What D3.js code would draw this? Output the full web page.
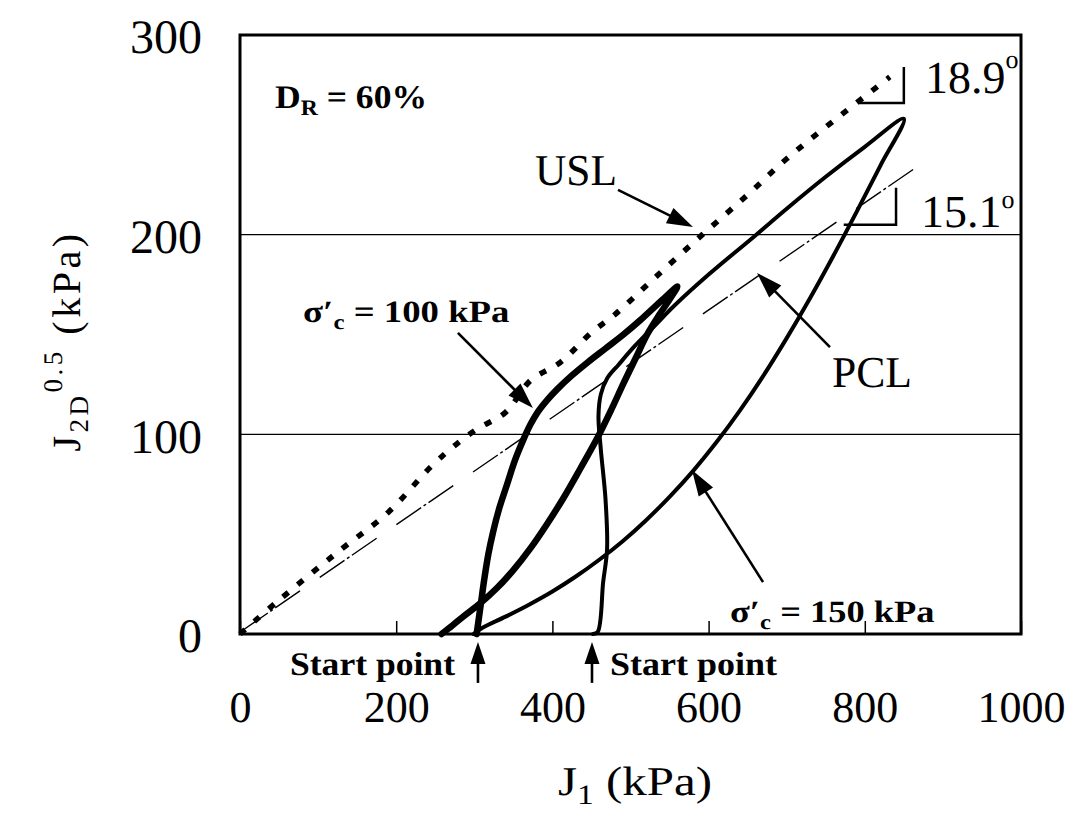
<!DOCTYPE html>
<html><head><meta charset="utf-8">
<script src="https://cdn.jsdelivr.net/npm/d3@7"></script>
<style>
html,body{margin:0;padding:0;background:#fff;}
svg{display:block;font-family:"Liberation Serif","Times New Roman",serif;}
text{text-rendering:geometricPrecision;-webkit-font-smoothing:antialiased;}
</style></head><body>
<svg id="chart" width="1090" height="817"></svg>
<script>
// ---------- data ----------
const xTickValues = [0, 200, 400, 600, 800, 1000];
const yTickValues = [0, 100, 200, 300];
const gridValues = [100, 200];

// Ultimate state line (dotted)
const uslJ1 = [0, 50, 125, 190, 245, 280, 305, 340, 372, 410, 450, 480, 530, 592, 650, 700, 760, 832];
const uslJ2 = [0, 17, 41, 61, 84, 96, 103, 111, 127, 136, 151, 160, 178, 200, 220, 238, 257, 279];

// Phase change line (dash-dot)
const pclJ1 = [4, 878];
const pclJ2 = [2, 237];

// sigma'c = 100 kPa stress path (thick)
const p100J1 = [303, 308, 313, 318, 324, 332, 342, 352, 363, 372, 381, 393, 406, 425, 445, 468, 491, 512, 530, 548, 560,
                550, 537, 522, 507, 491, 475, 458, 436, 414, 393, 372, 350, 329, 308, 286, 272, 258];
const p100J2 = [0, 14, 28, 40, 51, 63, 75, 87, 97.5, 105, 111, 117, 122.5, 129.5, 136, 143, 150, 157, 163.5, 170, 174,
                167.5, 160, 150.5, 138.5, 125.5, 112, 98.5, 83, 68, 55, 43, 32, 23, 15.5, 8.8, 4.3, 0];

// sigma'c = 150 kPa stress path
const p150J1 = [452, 458, 465, 470, 468, 462, 459, 462, 470, 485, 505, 530, 555, 600, 658, 700, 750, 800, 850,
                820, 790, 760, 730, 700, 670, 640, 610, 580, 550, 520, 490, 460, 430, 400, 370, 340, 310, 299];
const p150J2 = [0, 1, 26, 42.5, 67.5, 92.5, 109, 120, 128, 135, 144, 154, 164, 180, 199, 213, 229, 244, 258,
                234.6, 211.8, 189.6, 168.3, 148.2, 129.3, 111.9, 96, 81.6, 68.7, 57, 46.5, 37.2, 28.8, 21.3, 14.7, 8.7, 3, 0];

// ---------- layout ----------
const svg = d3.select("#chart");
const x = d3.scaleLinear().domain([0, 1000]).range([240, 1021]);
const y = d3.scaleLinear().domain([0, 300]).range([634, 35]);

// grid lines
svg.append("g").selectAll("line").data(gridValues).join("line")
  .attr("x1", x(0)).attr("x2", x(1000))
  .attr("y1", d => y(d)).attr("y2", d => y(d))
  .attr("stroke", "#000").attr("stroke-width", 1.3);

// axes
const xAxis = svg.append("g").attr("transform", `translate(0,${y(0)})`)
  .call(d3.axisBottom(x).tickValues(xTickValues).tickSize(-13).tickFormat(d3.format("d")));
xAxis.select(".domain").remove();
xAxis.selectAll(".tick line").attr("stroke", "#000").attr("stroke-width", 1.5);
xAxis.selectAll(".tick text").attr("y", 88).attr("dy", 0)
  .attr("font-size", 44).attr("fill", "#000").attr("font-family", "'Liberation Serif', 'Times New Roman', serif");

const yAxis = svg.append("g").attr("transform", `translate(${x(0)},0)`)
  .call(d3.axisLeft(y).tickValues(yTickValues).tickSize(0).tickPadding(38).tickFormat(d3.format("d")));
yAxis.select(".domain").remove();
yAxis.selectAll(".tick text").attr("dy", "0.37em")
  .attr("font-size", 48).attr("fill", "#000").attr("font-family", "'Liberation Serif', 'Times New Roman', serif");

// frame
svg.append("rect").attr("x", x(0)).attr("y", y(300))
  .attr("width", x(1000) - x(0)).attr("height", y(0) - y(300))
  .attr("fill", "none").attr("stroke", "#000").attr("stroke-width", 3);

// lines
const line = d3.line().x(d => x(d[0])).y(d => y(d[1]));
const smooth = d3.line().x(d => x(d[0])).y(d => y(d[1])).curve(d3.curveCatmullRom.alpha(0.5));
const zip = (a, b) => a.map((v, i) => [v, b[i]]);

svg.append("path").datum(zip(pclJ1, pclJ2)).attr("d", line)
  .attr("fill", "none").attr("stroke", "#000").attr("stroke-width", 1.4)
  .attr("stroke-dasharray", "30,3,3,3,30,24");

svg.append("path").datum(zip(uslJ1, uslJ2)).attr("d", smooth)
  .attr("fill", "none").attr("stroke", "#000").attr("stroke-width", 5.5)
  .attr("stroke-dasharray", "7,12");

svg.append("path").datum(zip(p150J1, p150J2)).attr("d", smooth)
  .attr("fill", "none").attr("stroke", "#000").attr("stroke-width", 4)
  .attr("stroke-linejoin", "round").attr("stroke-linecap", "round");

svg.append("path").datum(zip(p100J1, p100J2)).attr("d", smooth)
  .attr("fill", "none").attr("stroke", "#000").attr("stroke-width", 6.5)
  .attr("stroke-linejoin", "round").attr("stroke-linecap", "round");

// angle marks
const angle189 = [[792, 266], [850, 266], [850, 284]];
const angle151 = [[773, 205], [840, 205], [840, 223.5]];
[angle189, angle151].forEach(a => {
  svg.append("path").datum(a).attr("d", line)
    .attr("fill", "none").attr("stroke", "#000").attr("stroke-width", 2.5);
});

// arrows (data coordinates: tail -> tip)
function arrow(t, h, opt = {}) {
  const w = opt.w || 2.6, hl = opt.hl || 26, hw = opt.hw || 17;
  const x1 = x(t[0]), y1 = y(t[1]), x2 = x(h[0]), y2 = y(h[1]);
  const dx = x2 - x1, dy = y2 - y1, L = Math.hypot(dx, dy);
  const ux = dx / L, uy = dy / L, nx = -uy, ny = ux;
  const bx = x2 - ux * hl, by = y2 - uy * hl;
  svg.append("line").attr("x1", x1).attr("y1", y1).attr("x2", bx + ux * 2).attr("y2", by + uy * 2)
    .attr("stroke", "#000").attr("stroke-width", w);
  svg.append("polygon")
    .attr("points", `${x2},${y2} ${bx + nx * hw / 2},${by + ny * hw / 2} ${bx - nx * hw / 2},${by - ny * hw / 2}`)
    .attr("fill", "#000");
}
arrow([484, 222.4], [580, 203.8]);            // USL
arrow([279, 150.8], [375, 113.2]);            // sigma 100
arrow([755.4, 143.7], [662, 180.8]);          // PCL
arrow([669.7, 26], [578.7, 82.1]);            // sigma 150
arrow([304.7, -24.5], [304.7, -4], {hl: 22, hw: 15, w: 2.6});   // start 1
arrow([450.7, -24.5], [450.7, -4], {hl: 22, hw: 15, w: 2.6});   // start 2

// rich text helper
function richText(px, py, parts, opt = {}) {
  const g = svg.append("g");
  const t = g.append("text").attr("font-size", opt.size || 30)
    .attr("font-weight", opt.weight || "normal").attr("fill", "#000")
    .attr("text-anchor", opt.anchor || "start");
  if (opt.spacing) t.attr("letter-spacing", opt.spacing);
  parts.forEach(p => {
    const s = t.append("tspan").text(p.t).attr("fill", "#000");
    if (p.size) s.attr("font-size", p.size);
    if (p.dy) s.attr("dy", p.dy);
  });
  let sx = 1;
  if (opt.width) sx = opt.width / t.node().getBBox().width;
  g.attr("transform", `translate(${px},${py})` + (opt.rotate ? ` rotate(${opt.rotate})` : "") +
    (sx !== 1 ? ` scale(${sx},1)` : ""));
  return g;
}

// axis titles
richText(635, 795, [{t: "J"}, {t: "1", size: 28, dy: 9}, {t: " (kPa)", dy: -9}],
  {size: 41, anchor: "middle", width: 154});
richText(80, 341, [{t: "J"}, {t: "2D", size: 27, dy: 8}, {t: "0.5", size: 27, dy: -26}, {t: " (kPa)", dy: 18}],
  {size: 40, anchor: "middle", rotate: -90, spacing: 3.5})
  .attr("opacity", 0.995);

// annotations
richText(x(44.8), y(263.4), [{t: "D"}, {t: "R", size: 22, dy: 7}, {t: " = 60%", dy: -7}],
  {size: 33, weight: "bold", width: 152});
richText(x(377.7), y(224.9), [{t: "USL"}], {size: 44, width: 82});
richText(x(80.7), y(156.3), [{t: "σ′"}, {t: "c", size: 21, dy: 7}, {t: " = 100 kPa", dy: -7}],
  {size: 31, weight: "bold", width: 207});
richText(x(758), y(123.7), [{t: "PCL"}], {size: 44, width: 80});
richText(x(627.4), y(6), [{t: "σ′"}, {t: "c", size: 21, dy: 7}, {t: " = 150 kPa", dy: -7}],
  {size: 31, weight: "bold", width: 205});
richText(x(877.1), y(271), [{t: "18.9"}, {t: "o", size: 26, dy: -25}], {size: 46});
richText(x(872), y(203.8), [{t: "15.1"}, {t: "o", size: 26, dy: -19}], {size: 46});
richText(x(64), y(-20.5), [{t: "Start point"}], {size: 33, weight: "bold", width: 165});
richText(x(473.8), y(-20.5), [{t: "Start point"}], {size: 33, weight: "bold", width: 167});
</script>
</body></html>
